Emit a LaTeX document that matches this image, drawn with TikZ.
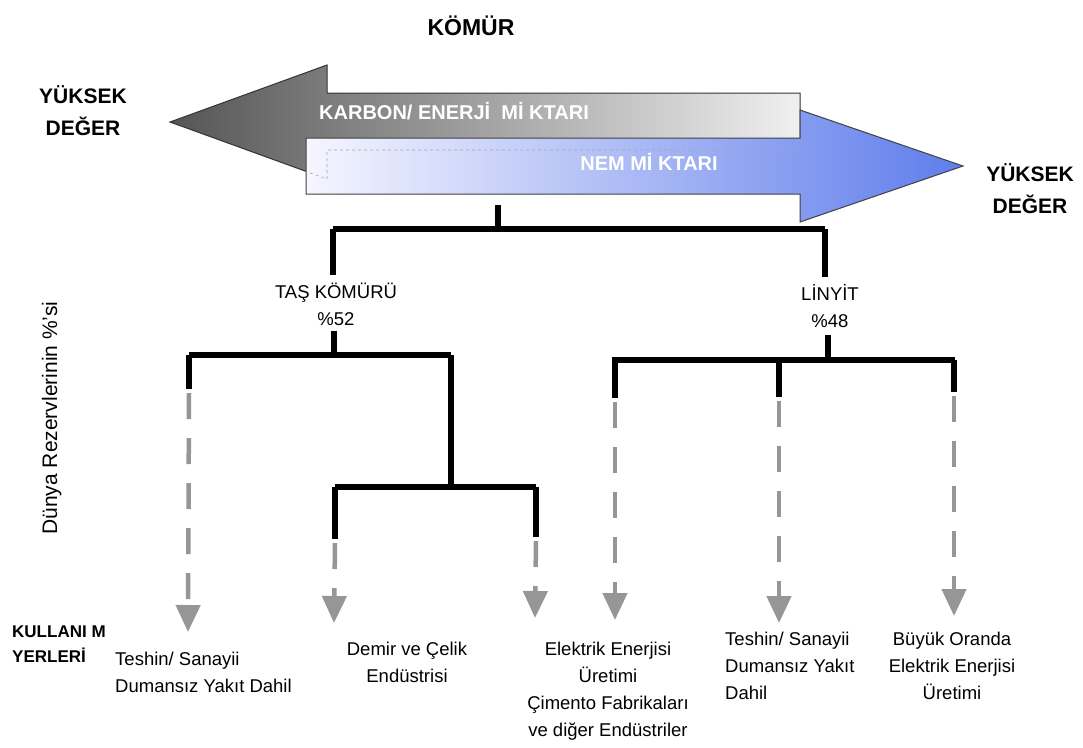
\documentclass[tikz,border=0pt]{standalone}
\usepackage{fontspec}
\setmainfont{Liberation Sans}
\usetikzlibrary{arrows.meta,positioning}
\definecolor{feedgray}{RGB}{150,150,150}
\definecolor{coaldark}{RGB}{85,85,85}
\definecolor{coallight}{RGB}{240,240,240}
\definecolor{wetlight}{RGB}{246,246,255}
\definecolor{wetblue}{RGB}{95,125,235}
\tikzset{
  txt/.style={font=\fontsize{18.5}{27}\selectfont, inner sep=0pt},
  head/.style={font=\fontsize{21}{32}\selectfont\bfseries, align=center, inner sep=0pt},
  band/.style={font=\fontsize{20}{24}\selectfont\bfseries, text=white, inner sep=0pt},
  trunk/.style={line width=5.5pt, black},
  feed/.style={line width=4.5pt, feedgray, dash pattern=on 26pt off 19pt,
    -{Triangle[width=24pt,length=27pt]}},
}
\begin{document}
\begin{tikzpicture}[x=1pt, y=-1pt]
    \useasboundingbox (0,0) rectangle (1083,747);

    % carbon / energy arrow (to the left)
    \shadedraw[left color=coaldark, right color=coallight, draw=black!80, line width=1pt]
        (170,122) -- (327,65) -- (327,93) -- (800,93) -- (800,150)
        -- (327,150) -- (327,179) -- cycle;
    % moisture arrow (to the right)
    \shadedraw[left color=wetlight, right color=wetblue, draw=black!75, line width=1pt]
        (306,138) -- (800,138) -- (800,110) -- (963,166) -- (800,222)
        -- (800,194) -- (306,194) -- cycle;
    \draw[black!35, dashed, line width=0.6pt]
        (800,139) -- (800,150) -- (327,150) -- (327,179) -- (306,171.5);

    \node[band, anchor=base] (carbon) at (454,119) {KARBON/ ENERJİ\ \ Mİ KTARI};
    \node[band, anchor=base] (moist) at (649,170) {NEM Mİ KTARI};

    % base anchor = last line of the node
    \node[head, font=\fontsize{23}{28}\selectfont\bfseries, anchor=base] (komur) at (471,35) {KÖMÜR};
    \node[head, anchor=base] (highleft) at (83,135) {YÜKSEK\\DEĞER};
    \node[head, anchor=base] (highright) at (1030,213) {YÜKSEK\\DEĞER};

    % main split
    \coordinate (root) at (498,205);
    \coordinate (rootbar) at (498,229);
    \coordinate (tasbar) at (333,229);
    \coordinate (linbar) at (825,229);
    \node[txt, align=center, anchor=base] (tas) at (336,325) {TAŞ KÖMÜRÜ\\\%52};
    \node[txt, align=center, anchor=base] (lin) at (830,327) {LİNYİT\\\%48};

    \draw[trunk] (root) -- (rootbar);
    \draw[trunk] (tasbar) -- (linbar);
    \draw[trunk, shorten >=7pt] (tasbar) -- (tasbar |- tas.north);
    \draw[trunk, shorten >=7pt] (linbar) -- (linbar |- lin.north);

    % hard coal uses
    \coordinate (tasjoint) at (334,355);
    \coordinate (heatA) at (189,355);
    \coordinate (steelbar) at (451,355);
    \coordinate (steeljoint) at (451,487);
    \coordinate (steelA) at (335,487);
    \coordinate (powerA) at (536,487);
    \draw[trunk, shorten <=6pt] (tasjoint |- tas.south) -- (tasjoint);
    \draw[trunk] (heatA) -- (steelbar);
    \draw[trunk] (heatA) -- (189,389);
    \draw[trunk] (steelbar) -- (steeljoint);
    \draw[trunk] (steelA) -- (powerA);
    \draw[trunk] (steelA) -- (335,539);
    \draw[trunk] (powerA) -- (536,537);

    \coordinate (heatAend) at (188,632);
    \coordinate (steelAend) at (334,623);
    \coordinate (powerAend) at (535,618);
    \draw[feed] (189,393) -- (heatAend);
    \draw[feed] (335,543) -- (steelAend);
    \draw[feed] (536,541) -- (powerAend);

    % lignite uses
    \coordinate (linjoint) at (828,360);
    \coordinate (powerB) at (612,360);
    \coordinate (heatB) at (779,360);
    \coordinate (bigpower) at (955,360);
    \draw[trunk, shorten <=8pt] (linjoint |- lin.south) -- (linjoint);
    \draw[trunk] (powerB) -- (bigpower);
    \draw[trunk] (615,360) -- (615,398);
    \draw[trunk] (heatB) -- (779,397);
    \draw[trunk] (954,360) -- (954,392);

    \coordinate (powerBend) at (615,620);
    \coordinate (heatBend) at (779,623);
    \coordinate (bigpowerend) at (954,616);
    \draw[feed] (615,402) -- (powerBend);
    \draw[feed] (779,401) -- (heatBend);
    \draw[feed] (954,396) -- (bigpowerend);

    % labels at the bottom
    \node[font=\fontsize{17}{25}\selectfont\bfseries, align=left, anchor=base west, inner sep=0pt] (usage) at (12,662) {KULLANI M\\YERLERİ};
    \node[txt, align=left, anchor=base west] (useheatA) at (115,692) {Teshin/ Sanayii\\Dumansız Yakıt Dahil};
    \node[txt, align=center, anchor=base] (usesteel) at (407,682) {Demir ve Çelik\\Endüstrisi};
    \node[txt, align=center, anchor=base] (usepowerA) at (608,736) {Elektrik Enerjisi\\Üretimi\\Çimento Fabrikaları\\ve diğer Endüstriler};
    \node[txt, align=left, anchor=base west] (useheatB) at (725,699) {Teshin/ Sanayii\\Dumansız Yakıt\\Dahil};
    \node[txt, align=center, anchor=base] (usebig) at (952,699) {Büyük Oranda\\Elektrik Enerjisi\\Üretimi};

    \node[font=\fontsize{21}{24}\selectfont, rotate=90, anchor=base, inner sep=0pt] (share) at (57,418) {Dünya Rezervlerinin \%'si};
\end{tikzpicture}
\end{document}
